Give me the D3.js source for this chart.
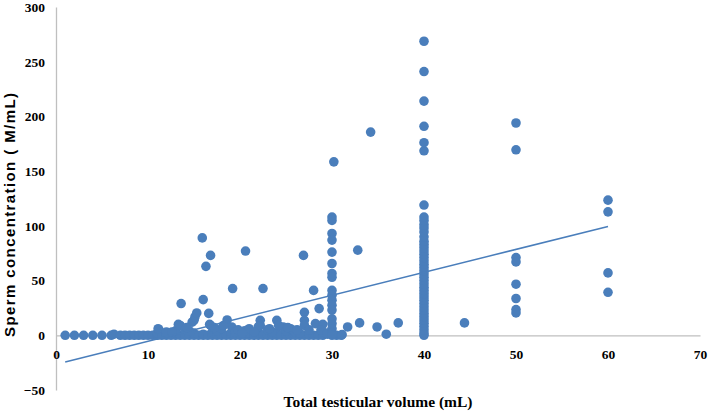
<!DOCTYPE html>
<html>
<head>
<meta charset="utf-8">
<script src="https://cdn.jsdelivr.net/npm/d3@7"></script>
<style>
  body { margin: 0; background: #fff; }
  svg { display: block; }
</style>
</head>
<body>
<div id="chart"></div>
<script>
// x = total testicular volume (mL), y = sperm concentration (M/mL)
var baseX = [1,2,3,4,5,6,6.3,7,7.5,8,8.5,9,9.5,10,10.5,11,11,11.2,11.5,12,12,12.5,13,13,13.5,14,14,14.5,15,15,15.5,16,16,16.5,17,17,17.5,18,18,18.5,19,19,19.5,20,20,20.5,21,21,21.5,22,22,22.5,23,23,23.5,24,24,24.5,25,25.5,26,26.5,27,27.5,28,28.5,29,29.5,30.5,31];
var baseY = [0,0,0,0,0,0,1,0,0,0,0,0,0,0,0,0,2,5,0,0,1,0,0,2,0,0,1,0,0,2,0,0,1,0,0,3,0,0,1,0,0,2,0,0,1,0,0,2,0,0,3,0,0,1,0,0,2,0,0,0,0,0,0,0,0,0,0,1,0,0];

var scatterX = [11.1,12,13,13.3,13.6,13.5,14,14.8,15,15.1,15.3,15.9,16,16.3,16.6,16.7,16.8,16.8,17.5,18,18.6,19.1,19.2,19.5,20.6,20.5,21,22.2,22.2,22.5,22,23,23.5,24,24.7,25,25.5,26,26.5,26.9,27,27,27,27.5,28,28.2,28.6,29,29,30.2,31.1,31.7,32.8,33,34.2,34.9,35.9,37.2,44.4,
                14.5,17.2,18.2,19.8,21.5,23.2,24.2,25.2,26.2,28.8,29.5,12.6,14.2,20.2];
var scatterY = [6,3,4,10,29,9,5,12,13.7,16.7,20.4,89,32.6,63,20,10,73,9,4,6,14,7.6,42.7,3,77,4,6,13.7,9,42.7,8,5,3,13.7,7.6,4,6,3,2,73,21,13.7,9,5,41,10.7,24.4,3,10,158.5,0.6,7.6,77.8,11.3,185.7,7.6,1,11.3,11.3,
                4,7,9,5,3,6,9,7,5,5,2,3,7,2];

var col30Y = [108,105,93,87,76,65.6,56.5,53,41,36.6,32,27.4,23,15,10.7,6,2,0];
var col40Y = [0,2,5,8,11,14,17,20,23,26,29,32,35,38,41,44,47,50,53,56,59,62,65,68,71,74,77,80,83,86,90,94.5,98,101,105,108,119,168.6,176,191,214,241,268.7];
var col50Y = [194,169.5,71,67,46.7,33.6,23.5,20.4];
var col60Y = [123.5,112.8,57,39.3];

// linear trendline
var trendSlope = 2.1;
var trendIntercept = -26.5;
var trendFrom = 1, trendTo = 60;

var xTicks = [0,10,20,30,40,50,60,70];
var yTicks = [-50,0,50,100,150,200,250,300];

var xTitle = "Total testicular volume (mL)";
var yTitle = "Sperm concentration ( M/mL)";

var width = 709, height = 413;
var blue = "#4a7ebb";

var points = [];
baseX.forEach(function(v, i){ points.push([v, baseY[i]]); });
scatterX.forEach(function(v, i){ points.push([v, scatterY[i]]); });
col30Y.forEach(function(v){ points.push([30, v]); });
col40Y.forEach(function(v){ points.push([40, v]); });
col50Y.forEach(function(v){ points.push([50, v]); });
col60Y.forEach(function(v){ points.push([60, v]); });

var x = d3.scaleLinear().domain([0,70]).range([56,700]);
var y = d3.scaleLinear().domain([-50,300]).range([390,7]);

var svg = d3.select("#chart").append("svg")
    .attr("width", width)
    .attr("height", height);

//Y axis
var yAxis = svg.append("g")
    .attr("transform", "translate(" + x(0) + ",0)")
    .call(d3.axisLeft(y).tickValues(yTicks).tickSize(0).tickPadding(11));
yAxis.select(".domain").attr("stroke", "#bfbfbf").attr("stroke-width", 1.3);
yAxis.selectAll("text")
    .attr("font-family", "'Liberation Serif', 'Times New Roman', serif")
    .attr("font-weight", "bold")
    .attr("font-size", 13.5)
    .attr("fill", "#000");

//X axis sits on zero
var xAxis = svg.append("g")
    .attr("transform", "translate(0," + y(0) + ")")
    .call(d3.axisBottom(x).tickValues(xTicks).tickSize(0).tickPadding(14));
xAxis.select(".domain").attr("stroke", "#bfbfbf").attr("stroke-width", 1.3);
xAxis.selectAll("text")
    .attr("font-family", "'Liberation Serif', 'Times New Roman', serif")
    .attr("font-weight", "bold")
    .attr("font-size", 13.5)
    .attr("fill", "#000");

//Points
svg.append("g")
    .selectAll("circle")
    .data(points)
    .enter()
    .append("circle")
    .attr("cx", function(d){ return x(d[0]); })
    .attr("cy", function(d){ return y(d[1]); })
    .attr("r", 4.8)
    .attr("fill", blue);

//Trendline
var line = d3.line()
    .x(function(d){ return x(d); })
    .y(function(d){ return y(trendIntercept + trendSlope * d); });
svg.append("path")
    .datum([trendFrom, trendTo])
    .attr("d", line)
    .attr("fill", "none")
    .attr("stroke", blue)
    .attr("stroke-width", 1.5);

//Titles
svg.append("text")
    .attr("x", 378)
    .attr("y", 407)
    .attr("text-anchor", "middle")
    .attr("font-family", "'Liberation Serif', 'Times New Roman', serif")
    .attr("font-weight", "bold")
    .attr("font-size", 15.5)
    .text(xTitle);

svg.append("text")
    .attr("transform", "translate(15,215) rotate(-90)")
    .attr("text-anchor", "middle")
    .attr("font-family", "'Liberation Sans', Arial, sans-serif")
    .attr("font-weight", "bold")
    .attr("font-size", 15)
    .attr("textLength", 244)
    .attr("lengthAdjust", "spacing")
    .text(yTitle);
</script>
</body>
</html>
